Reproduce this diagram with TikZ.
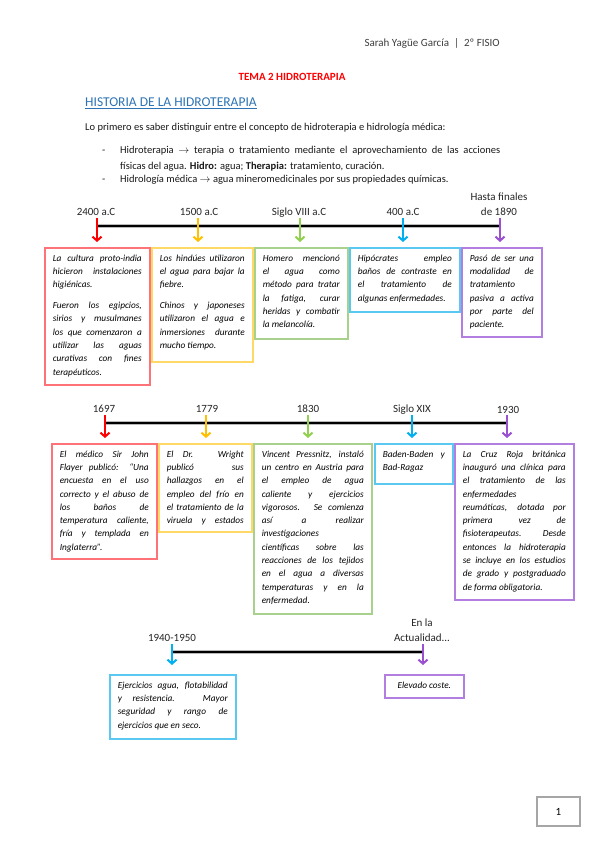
\documentclass[tikz,border=0pt]{standalone}
\usepackage{fontspec}
\setmainfont{Carlito}
\usetikzlibrary{arrows.meta}
\definecolor{ared}{HTML}{FF0000}
\definecolor{ayel}{HTML}{FFC000}
\definecolor{agrn}{HTML}{92D050}
\definecolor{ablu}{HTML}{00B0F0}
\definecolor{apur}{HTML}{9A50D0}
\definecolor{bred}{HTML}{FF7378}
\definecolor{byel}{HTML}{FFD966}
\definecolor{bgrn}{HTML}{A9D18E}
\definecolor{bblu}{HTML}{5BC8F2}
\definecolor{bpur}{HTML}{B27FE0}
\definecolor{hblue}{HTML}{2E74B5}
\definecolor{hgray}{HTML}{3F3F3F}
\newcommand\bxt[3]{\begin{minipage}[t][#2][t]{#1}\fontsize{9.3}{13.3}\selectfont\itshape #3\end{minipage}}
\newcommand\J[1]{\makebox[\linewidth][s]{\strut #1}\par}
\newcommand\Lz[1]{\strut #1\par}
\newcommand\gap{\vspace{7.6pt}}
\begin{document}
\begin{tikzpicture}[x=1pt,y=-1pt,
  lbl/.style={font=\fontsize{11}{13.6}\selectfont, inner sep=0pt, anchor=base, text=black!85},
  tlshadow/.style={line width=3.8pt, gray!55},
  tline/.style={line width=2.6pt, black},
  arr/.style={line width=2pt, -{Straight Barb[length=4pt,width=9pt]}},
  bx/.style={draw, line width=1.6pt, anchor=north west, inner xsep=8pt, inner ysep=4pt},
  body/.style={font=\fontsize{10.5}{13}\selectfont, inner sep=0pt, anchor=base west, text=black!90}]
\useasboundingbox (0,0) rectangle (599,848);
\fill[white] (0,0) rectangle (599,848);

% header
\node[font=\fontsize{11}{13}\selectfont, text=hgray, inner sep=0pt, anchor=base east] (hdr) at (500,47) {Sarah Yagüe García \ | \ 2º FISIO};
\node[font=\fontsize{11}{13}\selectfont\bfseries, text=ared, inner sep=0pt, anchor=base] (tema) at (292,81) {TEMA 2 HIDROTERAPIA};
\node[font=\fontsize{13.5}{16}\selectfont, text=hblue, inner sep=0pt, anchor=base west] (hist) at (85,107) {\underline{HISTORIA DE LA HIDROTERAPIA}};
\node[body] (intro) at (85,131) {Lo primero es saber distinguir entre el concepto de hidroterapia e hidrología médica:};
\node[body] (d1) at (102,153.5) {-};
\node[body] (b1) at (120,153.5) {\makebox[380pt][s]{Hidroterapia $\rightarrow$ terapia o tratamiento mediante el aprovechamiento de las acciones}};
\node[body] (b1b) at (120,169) {físicas del agua. \textbf{Hidro:} agua; \textbf{Therapia:} tratamiento, curación.};
\node[body] (d2) at (102,182.5) {-};
\node[body] (b2) at (120,182.5) {Hidrología médica $\rightarrow$ agua mineromedicinales por sus propiedades químicas.};

% ===== timeline 1 =====
\coordinate (L1a) at (97,226); \coordinate (L1b) at (500,226);
\draw[tlshadow] (L1a) -- (L1b);
\draw[tline] (L1a) -- (L1b);
\node[lbl] (t11) at (96,215) {2400 a.C};
\node[lbl] (t12) at (199,215) {1500 a.C};
\node[lbl] (t13) at (299,215) {Siglo VIII a.C};
\node[lbl] (t14) at (403,215) {400 a.C};
\node[lbl] (t15) at (499,215) {\renewcommand\arraystretch{1.03}\begin{tabular}[b]{@{}c@{}}Hasta finales\\de 1890\end{tabular}};
\coordinate (s11) at (97,218);  \coordinate (e11) at (97,242);
\coordinate (s12) at (198,218); \coordinate (e12) at (198,242);
\coordinate (s13) at (300,218); \coordinate (e13) at (300,242);
\coordinate (s14) at (403,218); \coordinate (e14) at (403,242);
\coordinate (s15) at (500,218); \coordinate (e15) at (500,242);
\draw[arr, ared] (s11) -- (e11);
\draw[arr, ayel] (s12) -- (e12);
\draw[arr, agrn] (s13) -- (e13);
\draw[arr, ablu] (s14) -- (e14);
\draw[arr, apur] (s15) -- (e15);

\node[bx, draw=bred] (r11) at (44,247) {\bxt{89pt}{129pt}{%
\J{La cultura proto-india}
\J{hicieron instalaciones}
\Lz{higiénicas.}
\gap
\J{Fueron los egipcios,}
\J{sirios y musulmanes}
\J{los que comenzaron a}
\J{utilizar las aguas}
\J{curativas con fines}
\Lz{terapéuticos.}}};
\node[bx, draw=byel] (r12) at (151,247) {\bxt{85pt}{106pt}{%
\J{Los hindúes utilizaron}
\J{el agua para bajar la}
\Lz{fiebre.}
\gap
\J{Chinos y japoneses}
\J{utilizaron el agua e}
\J{inmersiones durante}
\Lz{mucho tiempo.}}};
\node[bx, draw=bgrn] (r13) at (254,247) {\bxt{77pt}{83pt}{%
\J{Homero mencionó}
\J{el agua como}
\J{método para tratar}
\J{la fatiga, curar}
\J{heridas y combatir}
\Lz{la melancolía.}}};
\node[bx, draw=bblu] (r14) at (349,247) {\bxt{94pt}{56pt}{%
\J{Hipócrates empleo}
\J{baños de contraste en}
\J{el tratamiento de}
\Lz{algunas enfermedades.}}};
\node[bx, draw=bpur] (r15) at (461,247) {\bxt{64pt}{81pt}{%
\J{Pasó de ser una}
\J{modalidad de}
\Lz{tratamiento}
\J{pasiva a activa}
\J{por parte del}
\Lz{paciente.}}};

% ===== timeline 2 =====
\coordinate (L2a) at (105,423); \coordinate (L2b) at (507,423);
\draw[tlshadow] (L2a) -- (L2b);
\draw[tline] (L2a) -- (L2b);
\node[lbl] (t21) at (104,412) {1697};
\node[lbl] (t22) at (207,412) {1779};
\node[lbl] (t23) at (308,412) {1830};
\node[lbl] (t24) at (412,412) {Siglo XIX};
\node[lbl] (t25) at (508,413) {1930};
\coordinate (s21) at (105,415); \coordinate (e21) at (105,438);
\coordinate (s22) at (206,415); \coordinate (e22) at (206,438);
\coordinate (s23) at (308,415); \coordinate (e23) at (308,438);
\coordinate (s24) at (412,415); \coordinate (e24) at (412,438);
\coordinate (s25) at (507,415); \coordinate (e25) at (507,438);
\draw[arr, ared] (s21) -- (e21);
\draw[arr, ayel] (s22) -- (e22);
\draw[arr, agrn] (s23) -- (e23);
\draw[arr, ablu] (s24) -- (e24);
\draw[arr, apur] (s25) -- (e25);

\node[bx, draw=bred] (r21) at (51,443) {\bxt{89pt}{107pt}{%
\J{El médico Sir John}
\J{Flayer publicó: “Una}
\J{encuesta en el uso}
\J{correcto y el abuso de}
\J{los baños de}
\J{temperatura caliente,}
\J{fría y templada en}
\Lz{Inglaterra”.}}};
\node[bx, draw=byel] (r22) at (158,443) {\bxt{77pt}{80pt}{%
\J{El Dr. Wright}
\J{publicó sus}
\J{hallazgos en el}
\J{empleo del frío en}
\J{el tratamiento de la}
\J{viruela y estados}}};
\node[bx, draw=bgrn] (r23) at (253,443) {\bxt{102pt}{162pt}{%
\J{Vincent Pressnitz, instaló}
\J{un centro en Austria para}
\J{el empleo de agua}
\J{caliente y ejercicios}
\J{vigorosos. Se comienza}
\J{así a realizar}
\Lz{investigaciones}
\J{científicas sobre las}
\J{reacciones de los tejidos}
\J{en el agua a diversas}
\J{temperaturas y en la}
\Lz{enfermedad.}}};
\node[bx, draw=bblu] (r24) at (374,443) {\bxt{62pt}{32pt}{%
\J{Baden-Baden y}
\Lz{Bad-Ragaz}}};
\node[bx, draw=bpur] (r25) at (454,443) {\bxt{103pt}{148pt}{%
\J{La Cruz Roja británica}
\J{inauguró una clínica para}
\J{el tratamiento de las}
\Lz{enfermedades}
\J{reumáticas, dotada por}
\J{primera vez de}
\J{fisioterapeutas. Desde}
\J{entonces la hidroterapia}
\J{se incluye en los estudios}
\J{de grado y postgraduado}
\Lz{de forma obligatoria.}}};

% ===== timeline 3 =====
\coordinate (L3a) at (172,652); \coordinate (L3b) at (423,652);
\draw[tlshadow] (L3a) -- (L3b);
\draw[tline] (L3a) -- (L3b);
\node[lbl] (t31) at (172,641) {1940-1950};
\node[lbl] (t32) at (422,641) {\renewcommand\arraystretch{1.03}\begin{tabular}[b]{@{}c@{}}En la\\Actualidad...\end{tabular}};
\coordinate (s31) at (172,644); \coordinate (e31) at (172,665);
\coordinate (s32) at (423,644); \coordinate (e32) at (423,665);
\draw[arr, ablu] (s31) -- (e31);
\draw[arr, apur] (s32) -- (e32);

\node[bx, draw=bblu] (r31) at (109,674) {\bxt{110pt}{56pt}{%
\J{Ejercicios agua, flotabilidad}
\J{y resistencia. Mayor}
\J{seguridad y rango de}
\Lz{ejercicios que en seco.}}};
\node[bx, draw=bpur] (r32) at (384,674) {\bxt{63pt}{15pt}{%
\centering\strut Elevado coste.\par}};

% page number
\node[draw=gray!70, line width=1.6pt, minimum width=43pt, minimum height=29pt, font=\fontsize{11}{13}\selectfont] (pg) at (558.5,811.5) {1};
\end{tikzpicture}
\end{document}
